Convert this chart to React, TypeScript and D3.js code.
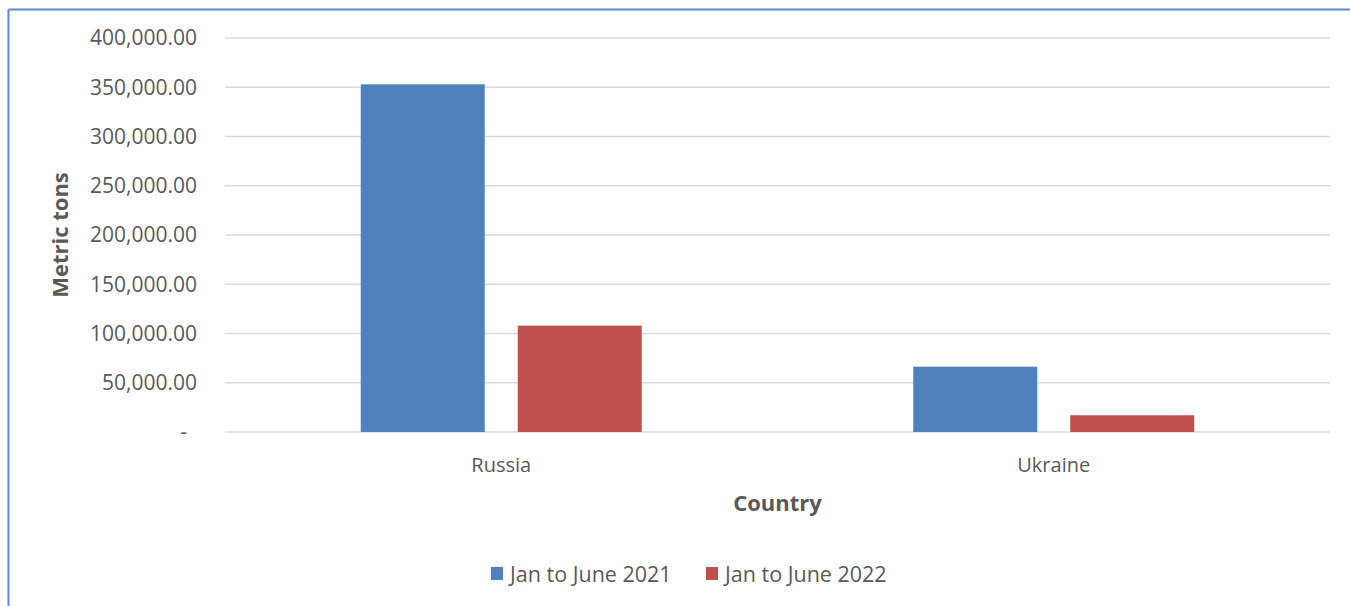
import React from "react";
import * as d3 from "d3";

const countries = ["Russia", "Ukraine"];
const seriesNames = ["Jan to June 2021", "Jan to June 2022"];
const values2021 = [353000, 66300];
const values2022 = [108000, 17000];
const yTicks = [0, 50000, 100000, 150000, 200000, 250000, 300000, 350000, 400000];
const colors = ["#4F81BD", "#C0504D"];

const W = 1350;
const H = 606;
const plot = { left: 225, right: 1330, top: 38, bottom: 432 };
const FONT = "'Open Sans', sans-serif";
const TXT = "#595959";

export default function App() {
  const x0 = d3.scaleBand<string>().domain(countries).range([plot.left, plot.right]).padding(0);
  const step = x0.bandwidth();
  const outer = step * 0.2457;
  const x1 = d3
    .scaleBand<string>()
    .domain(seriesNames)
    .range([outer, step - outer])
    .paddingInner(0.21)
    .paddingOuter(0);
  const y = d3.scaleLinear().domain([0, 400000]).range([plot.bottom, plot.top]);
  const fmt = d3.format(",.2f");
  const series = [values2021, values2022];

  return (
    <svg width={W} height={H} style={{ display: "block", position: "absolute", left: 0, top: 0 }}>
      <rect x={0} y={0} width={W} height={H} fill="#fff" />
      <line x1={8.5} y1={9.5} x2={W} y2={9.5} stroke="#5B8BC9" strokeWidth={2} />
      <line x1={8.5} y1={9.5} x2={8.5} y2={H} stroke="#5B8BC9" strokeWidth={2} />
      {yTicks.map((t) => (
        <g key={t}>
          <line x1={plot.left} x2={plot.right} y1={y(t)} y2={y(t)} stroke="#D9D9D9" strokeWidth={1.5} />
          <text
            x={t === 0 ? 187 : 197}
            y={y(t)}
            dy="0.35em"
            textAnchor="end"
            fontFamily={FONT}
            fontSize={21}
            fill={TXT}
          >
            {t === 0 ? "-" : fmt(t)}
          </text>
        </g>
      ))}
      {countries.map((c, ci) => (
        <g key={c} transform={`translate(${x0(c)},0)`}>
          {seriesNames.map((s, si) => (
            <rect
              key={s}
              x={x1(s)}
              y={y(series[si][ci])}
              width={x1.bandwidth()}
              height={plot.bottom - y(series[si][ci])}
              fill={colors[si]}
            />
          ))}
          <text
            x={step / 2}
            y={465}
            dy="0.35em"
            textAnchor="middle"
            fontFamily={FONT}
            fontSize={20}
            fill={TXT}
          >
            {c}
          </text>
        </g>
      ))}
      <text
        x={(plot.left + plot.right) / 2}
        y={503}
        dy="0.35em"
        textAnchor="middle"
        fontFamily={FONT}
        fontSize={22}
        fontWeight="bold"
        fill={TXT}
      >
        Country
      </text>
      <text
        transform={`translate(60,${(plot.top + plot.bottom) / 2}) rotate(-90)`}
        dy="0.35em"
        textAnchor="middle"
        fontFamily={FONT}
        fontSize={22}
        fontWeight="bold"
        fill={TXT}
      >
        Metric tons
      </text>
      {seriesNames.map((s, i) => {
        const lx = 491 + i * 215;
        return (
          <g key={s}>
            <rect x={lx} y={567} width={12} height={13} fill={colors[i]} />
            <text x={lx + 19} y={574} dy="0.35em" fontFamily={FONT} fontSize={21.5} fill={TXT}>
              {s}
            </text>
          </g>
        );
      })}
    </svg>
  );
}
